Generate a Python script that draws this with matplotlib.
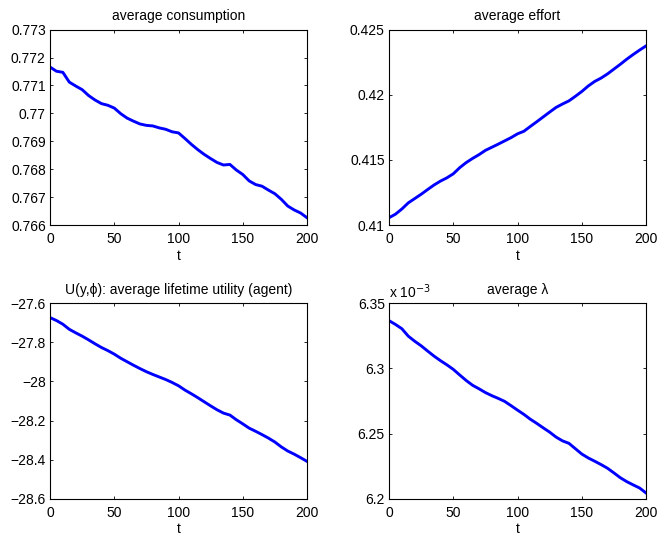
import matplotlib
matplotlib.use("Agg")
import matplotlib.pyplot as plt
from matplotlib.ticker import FuncFormatter

plt.rcParams['font.family'] = ['Liberation Sans', 'DejaVu Sans']
plt.rcParams['font.size'] = 10

# time axis (every 5 periods)
t = list(range(0, 201, 5))

consumption = [0.77166, 0.77151, 0.77147, 0.77112, 0.77098, 0.77085, 0.77064, 0.77048,
               0.77035, 0.77029, 0.77019, 0.76999, 0.76983, 0.76972, 0.76962, 0.76957,
               0.76955, 0.76948, 0.76943, 0.76934, 0.76930, 0.76910, 0.76889, 0.76870,
               0.76853, 0.76838, 0.76824, 0.76815, 0.76817, 0.76797, 0.76781, 0.76758,
               0.76745, 0.76739, 0.76725, 0.76712, 0.76692, 0.76668, 0.76654, 0.76643,
               0.76626]

effort = [0.41056, 0.41083, 0.41123, 0.41170, 0.41203, 0.41236, 0.41272, 0.41307,
          0.41337, 0.41362, 0.41393, 0.41440, 0.41479, 0.41511, 0.41540, 0.41573,
          0.41597, 0.41621, 0.41646, 0.41671, 0.41700, 0.41720, 0.41757, 0.41793,
          0.41830, 0.41867, 0.41903, 0.41929, 0.41953, 0.41988, 0.42025, 0.42067,
          0.42102, 0.42128, 0.42160, 0.42197, 0.42234, 0.42273, 0.42309, 0.42343,
          0.42375]

utility = [-27.673, -27.688, -27.707, -27.733, -27.751, -27.768, -27.787, -27.807,
           -27.826, -27.842, -27.860, -27.881, -27.899, -27.917, -27.934, -27.950,
           -27.964, -27.977, -27.990, -28.005, -28.022, -28.044, -28.063, -28.083,
           -28.104, -28.125, -28.145, -28.162, -28.172, -28.196, -28.217, -28.239,
           -28.255, -28.272, -28.290, -28.310, -28.335, -28.356, -28.372, -28.390,
           -28.409]

# lambda in units of 1e-3
lam = [6.3367, 6.3338, 6.3305, 6.3248, 6.3209, 6.3174, 6.3134, 6.3095,
       6.3060, 6.3028, 6.2993, 6.2950, 6.2908, 6.2871, 6.2844, 6.2815,
       6.2791, 6.2770, 6.2747, 6.2714, 6.2680, 6.2647, 6.2610, 6.2578,
       6.2544, 6.2511, 6.2473, 6.2444, 6.2425, 6.2384, 6.2343, 6.2313,
       6.2288, 6.2262, 6.2234, 6.2198, 6.2161, 6.2131, 6.2106, 6.2082,
       6.2044]

xticks = [0, 50, 100, 150, 200]
panels = [
    (consumption, "average consumption", (0.766, 0.773), [0.766, 0.767, 0.768, 0.769, 0.770, 0.771, 0.772, 0.773]),
    (effort, "average effort", (0.41, 0.425), [0.41, 0.415, 0.42, 0.425]),
    (utility, "U(y,\u03d5): average lifetime utility (agent)", (-28.6, -27.6), [-28.6, -28.4, -28.2, -28.0, -27.8, -27.6]),
    (lam, "average \u03bb", (6.2, 6.35), [6.2, 6.25, 6.3, 6.35]),
]

fig = plt.figure(figsize=(6.58, 5.36), dpi=100)
lefts = [0.076, 0.5912]
bottoms = [0.5802, 0.0696]
w, h = 0.3906, 0.3645

fmt = FuncFormatter(lambda v, p: ("%g" % round(v, 6)).replace("-", "\u2212"))

for i, (y, title, ylim, yticks) in enumerate(panels):
    ax = fig.add_axes([lefts[i % 2], bottoms[i // 2], w, h])
    ax.plot(t, y, color=(0, 0, 1), lw=2.1)
    ax.set_xlim(0, 200)
    ax.set_ylim(*ylim)
    ax.set_xticks(xticks)
    ax.set_yticks(yticks)
    ax.xaxis.set_major_formatter(fmt)
    ax.yaxis.set_major_formatter(fmt)
    ax.tick_params(direction="in", length=2, width=0.6, top=True, right=True,
                   labelsize=10, pad=3)
    ax.tick_params(axis="x", pad=5)
    for s in ax.spines.values():
        s.set_linewidth(0.8)
    ax.set_title(title, fontsize=10, pad=7)
    ax.set_xlabel("t", fontsize=10, labelpad=2)

# scale factor for lambda panel
fig.axes[3].text(0.0, 1.01, r"x 10$^{-3}$", transform=fig.axes[3].transAxes,
                 ha="left", va="bottom", fontsize=10)

fig.savefig("out.png", dpi=100)
